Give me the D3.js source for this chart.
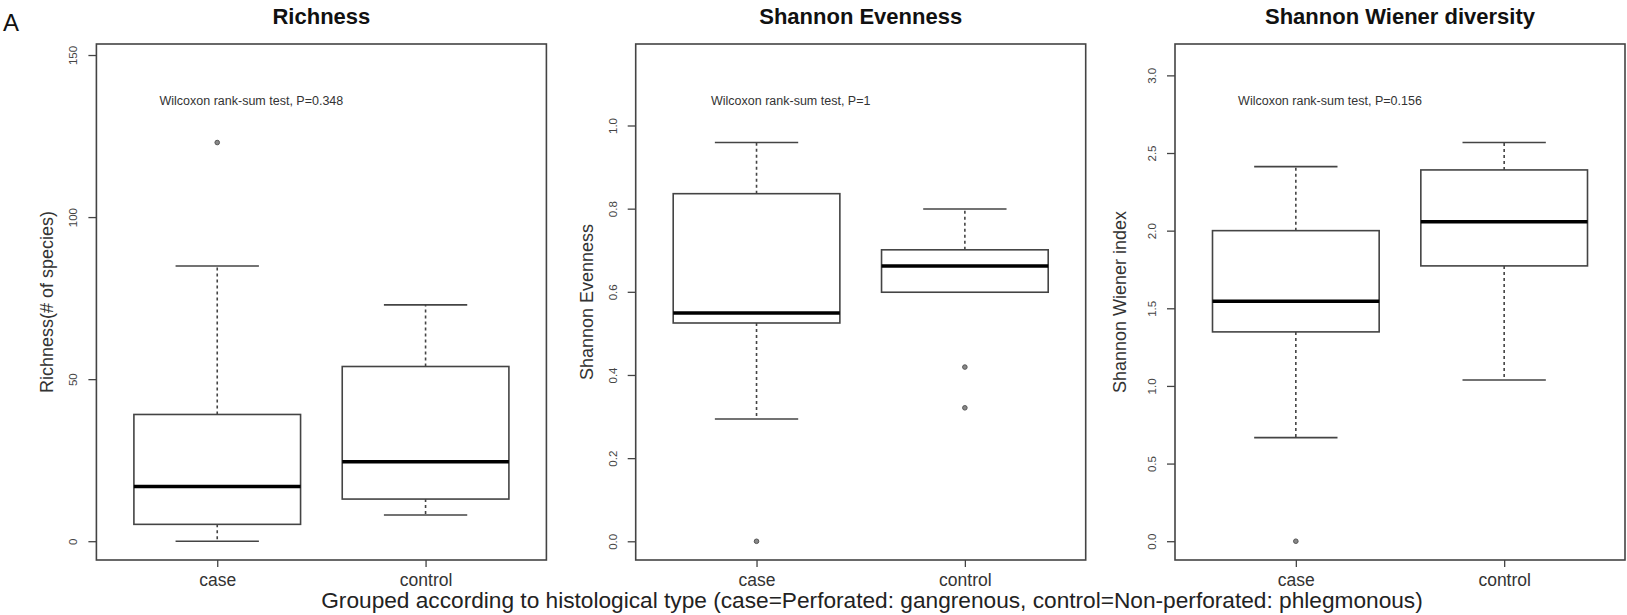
<!DOCTYPE html>
<html>
<head>
<meta charset="utf-8">
<script src="https://cdn.jsdelivr.net/npm/d3@7"></script>
<style>
  body { margin: 0; background: #fff; }
  text { font-family: "Liberation Sans", Arial, Helvetica, sans-serif; }
</style>
</head>
<body>
<div id="chart"></div>
<script>
// groups on the x axis
const groups = ["case", "control"];

// panel titles, y labels and test results
const panelTitles = ["Richness", "Shannon Evenness", "Shannon Wiener diversity"];
const yLabels = ["Richness(# of species)", "Shannon Evenness", "Shannon Wiener index"];
const pLabels = ["Wilcoxon rank-sum test, P=0.348", "Wilcoxon rank-sum test, P=1", "Wilcoxon rank-sum test, P=0.156"];

// box stats: [lower whisker, Q1, median, Q3, upper whisker]
const richnessCase = [0, 5.2, 16.9, 39.1, 84.9];
const richnessControl = [8.1, 13.0, 24.5, 53.9, 72.9];
const evennessCase = [0.294, 0.525, 0.549, 0.836, 0.959];
const evennessControl = [0.599, 0.599, 0.662, 0.701, 0.799];
const diversityCase = [0.667, 1.348, 1.545, 2.0, 2.412];
const diversityControl = [1.038, 1.773, 2.058, 2.391, 2.568];

// outliers per group
const richnessOutliers = [[123], []];
const evennessOutliers = [[0], [0.419, 0.321]];
const diversityOutliers = [[0], []];

// y axis ticks and limits
const richnessTicks = [0, 50, 100, 150];
const evennessTicks = [0, 0.2, 0.4, 0.6, 0.8, 1.0];
const diversityTicks = [0, 0.5, 1.0, 1.5, 2.0, 2.5, 3.0];
const richnessLimits = [-5.8, 153.4];
const evennessLimits = [-0.045, 1.196];
const diversityLimits = [-0.121, 3.202];

const bottomLabel = "Grouped according to histological type (case=Perforated: gangrenous, control=Non-perforated: phlegmonous)";

const panels = [
  { stats: [richnessCase, richnessControl], outliers: richnessOutliers, ticks: richnessTicks, limits: richnessLimits, fmt: d3.format("d") },
  { stats: [evennessCase, evennessControl], outliers: evennessOutliers, ticks: evennessTicks, limits: evennessLimits, fmt: d3.format(".1f") },
  { stats: [diversityCase, diversityControl], outliers: diversityOutliers, ticks: diversityTicks, limits: diversityLimits, fmt: d3.format(".1f") }
];

// layout
let totalW = 1627, totalH = 615;
let plotTop = 44, plotBottom = 560, plotW = 450;
let panelStep = 539.3, firstLeft = 96.4;
let ylabOffset = [50, 49, 55];
let lineColor = "#444";

let svg = d3.select("#chart").append("svg")
  .attr("width", totalW)
  .attr("height", totalH);

svg.append("rect").attr("width", totalW).attr("height", totalH).attr("fill", "#fff");

// panel letter
svg.append("text")
  .attr("x", 3)
  .attr("y", 31)
  .style("font-size", "24px")
  .attr("fill", "#111")
  .text("A");

panels.forEach(function (p, i) {
  let left = firstLeft + panelStep * i;
  let h = plotBottom - plotTop;
  let g = svg.append("g").attr("transform", "translate(" + left + "," + plotTop + ")");

  let x = d3.scalePoint().domain(groups).range([0, plotW]).padding(0.58);
  let y = d3.scaleLinear().domain(p.limits).range([h, 0]);
  let boxW = x.step() * 0.8;
  let capW = x.step() * 0.4;

  // y axis
  let yAxis = g.append("g")
    .call(d3.axisLeft(y).tickValues(p.ticks).tickFormat(p.fmt).tickSize(8));
  yAxis.select(".domain").remove();
  yAxis.selectAll("line").attr("stroke", lineColor).attr("stroke-width", 1.3);
  yAxis.selectAll("text")
    .attr("transform", "rotate(-90)")
    .attr("x", 0)
    .attr("y", -19)
    .attr("dy", 0)
    .attr("text-anchor", "middle")
    .attr("fill", "#444")
    .style("font-size", "11.5px");

  // x axis
  let xAxis = g.append("g")
    .attr("transform", "translate(0," + h + ")")
    .call(d3.axisBottom(x).tickSize(7).tickPadding(6.5));
  xAxis.select(".domain").remove();
  xAxis.selectAll("line").attr("stroke", lineColor).attr("stroke-width", 1.3);
  xAxis.selectAll("text")
    .attr("fill", "#333")
    .style("font-size", "17.5px");

  // frame
  g.append("rect")
    .attr("width", plotW)
    .attr("height", h)
    .attr("fill", "none")
    .attr("stroke", lineColor)
    .attr("stroke-width", 1.6);

  // boxes
  let boxes = g.selectAll(".box")
    .data(groups.map(function (k, j) { return { key: k, s: p.stats[j], out: p.outliers[j] }; }))
    .enter().append("g")
    .attr("class", "box");

  // whiskers
  boxes.append("line")
    .attr("x1", function (d) { return x(d.key); })
    .attr("x2", function (d) { return x(d.key); })
    .attr("y1", function (d) { return y(d.s[3]); })
    .attr("y2", function (d) { return y(d.s[4]); })
    .attr("stroke", lineColor).attr("stroke-width", 1.6).attr("stroke-dasharray", "3,3");
  boxes.append("line")
    .attr("x1", function (d) { return x(d.key); })
    .attr("x2", function (d) { return x(d.key); })
    .attr("y1", function (d) { return y(d.s[1]); })
    .attr("y2", function (d) { return y(d.s[0]); })
    .attr("stroke", lineColor).attr("stroke-width", 1.6).attr("stroke-dasharray", "3,3");

  // caps
  [0, 4].forEach(function (k) {
    boxes.append("line")
      .attr("x1", function (d) { return x(d.key) - capW / 2; })
      .attr("x2", function (d) { return x(d.key) + capW / 2; })
      .attr("y1", function (d) { return y(d.s[k]); })
      .attr("y2", function (d) { return y(d.s[k]); })
      .attr("stroke", lineColor).attr("stroke-width", 1.6);
  });

  // box body
  boxes.append("rect")
    .attr("x", function (d) { return x(d.key) - boxW / 2; })
    .attr("y", function (d) { return y(d.s[3]); })
    .attr("width", boxW)
    .attr("height", function (d) { return y(d.s[1]) - y(d.s[3]); })
    .attr("fill", "#fff")
    .attr("stroke", lineColor)
    .attr("stroke-width", 1.6);

  // median
  boxes.append("line")
    .attr("x1", function (d) { return x(d.key) - boxW / 2; })
    .attr("x2", function (d) { return x(d.key) + boxW / 2; })
    .attr("y1", function (d) { return y(d.s[2]); })
    .attr("y2", function (d) { return y(d.s[2]); })
    .attr("stroke", "#000")
    .attr("stroke-width", 3.5);

  // outliers
  boxes.selectAll(".dot")
    .data(function (d) { return d.out.map(function (v) { return { key: d.key, v: v }; }); })
    .enter().append("circle")
    .attr("class", "dot")
    .attr("cx", function (d) { return x(d.key); })
    .attr("cy", function (d) { return y(d.v); })
    .attr("r", 2.3)
    .attr("fill", "#888")
    .attr("stroke", "#555")
    .attr("stroke-width", 1);

  // test label
  g.append("text")
    .attr("x", 155)
    .attr("y", 61)
    .attr("text-anchor", "middle")
    .attr("fill", "#333")
    .style("font-size", "12.5px")
    .text(pLabels[i]);

  // title
  g.append("text")
    .attr("x", plotW / 2)
    .attr("y", 24 - plotTop)
    .attr("text-anchor", "middle")
    .attr("fill", "#111")
    .style("font-size", "22px")
    .style("font-weight", "bold")
    .text(panelTitles[i]);

  // y label
  g.append("text")
    .attr("transform", "translate(" + (-ylabOffset[i]) + "," + (h / 2) + ") rotate(-90)")
    .attr("text-anchor", "middle")
    .attr("dy", "0.35em")
    .attr("fill", "#333")
    .style("font-size", "18px")
    .text(yLabels[i]);
});

// shared x label, sized to span the same width as the original
let xl = svg.append("text")
  .attr("x", 872)
  .attr("y", 608)
  .attr("text-anchor", "middle")
  .attr("fill", "#222")
  .style("font-size", "20px")
  .text(bottomLabel);
let len = xl.node().getComputedTextLength();
xl.style("font-size", (20 * 1102 / len).toFixed(2) + "px");
</script>
</body>
</html>
